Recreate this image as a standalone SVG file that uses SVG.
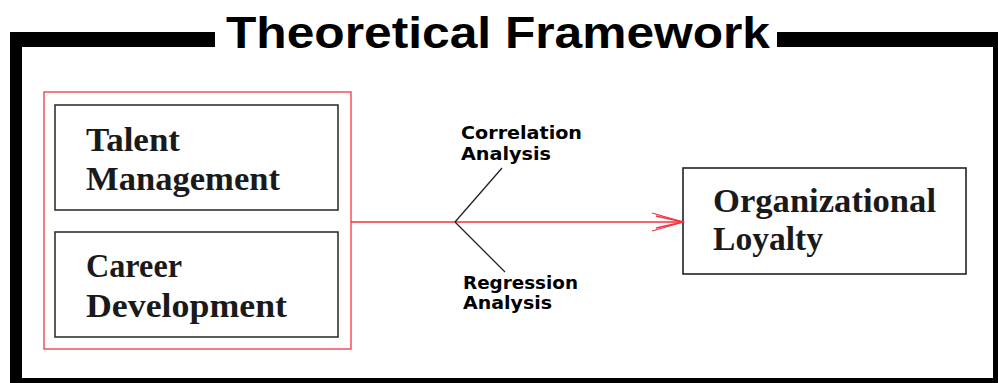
<svg xmlns="http://www.w3.org/2000/svg" width="998" height="383" viewBox="0 0 998 383">
<style>
.frame{fill:#000}
.box{fill:#fff;stroke:#333;stroke-width:1.6}
.serif{font-family:"Liberation Serif","Times New Roman",serif;font-weight:bold;font-size:34px;fill:#1a1a1a}
.lbl{font-family:"DejaVu Sans",Verdana,sans-serif;font-weight:bold;font-size:17.5px;fill:#000}
.red{stroke:#f5333f;stroke-width:1.3;fill:none}
.blk{stroke:#222;stroke-width:1.3;fill:none}
</style>
<rect width="998" height="383" fill="#fff"/>
<g id="frame">
<rect class="frame" x="10" y="32" width="205" height="15"/>
<rect class="frame" x="777" y="32" width="221" height="15"/>
<rect class="frame" x="10" y="32" width="12" height="351"/>
<rect class="frame" x="993" y="32" width="5" height="351"/>
<rect class="frame" x="10" y="378" width="988" height="5"/>
<text x="226" y="48" font-family="'Liberation Sans',Arial,sans-serif" font-weight="bold" font-size="45" textLength="544" lengthAdjust="spacingAndGlyphs">Theoretical Framework</text>
</g>
<g id="group-independent">
<rect class="red" x="44" y="92" width="307" height="257"/>
</g>
<g id="talent-management">
<rect class="box" x="55" y="105" width="283" height="105"/>
<text class="serif" x="86" y="151" textLength="94" lengthAdjust="spacingAndGlyphs">Talent</text>
<text class="serif" x="86" y="190" textLength="194" lengthAdjust="spacingAndGlyphs">Management</text>
</g>
<g id="career-development">
<rect class="box" x="55" y="232" width="283" height="105"/>
<text class="serif" x="86" y="277" textLength="96" lengthAdjust="spacingAndGlyphs">Career</text>
<text class="serif" x="86" y="317" textLength="201" lengthAdjust="spacingAndGlyphs">Development</text>
</g>
<g id="organizational-loyalty">
<rect class="box" x="683" y="168" width="283" height="106" style="stroke:#222"/>
<text class="serif" x="713" y="212" textLength="223" lengthAdjust="spacingAndGlyphs">Organizational</text>
<text class="serif" x="713" y="250" textLength="110" lengthAdjust="spacingAndGlyphs">Loyalty</text>
</g>
<g id="connectors">
<line class="red" x1="351" y1="222" x2="683" y2="222"/>
<polyline class="red" points="652,213 683,222 652,231"/>
<polyline class="red" points="656,216 683,222 656,228" stroke-width="0.8"/>
<line class="blk" x1="455" y1="222" x2="502" y2="168"/>
<line class="blk" x1="455" y1="222" x2="505" y2="272"/>
</g>
<g id="labels">
<text class="lbl" x="461" y="139" textLength="121" lengthAdjust="spacingAndGlyphs">Correlation</text>
<text class="lbl" x="461" y="160" textLength="90" lengthAdjust="spacingAndGlyphs">Analysis</text>
<text class="lbl" x="463" y="289" textLength="115" lengthAdjust="spacingAndGlyphs">Regression</text>
<text class="lbl" x="463" y="309" textLength="89" lengthAdjust="spacingAndGlyphs">Analysis</text>
</g>
</svg>
